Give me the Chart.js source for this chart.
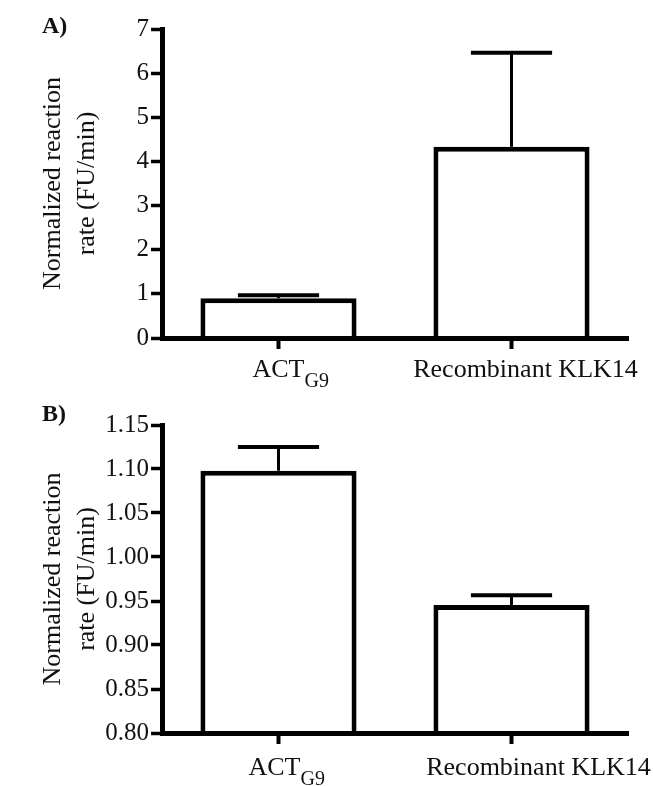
<!DOCTYPE html>
<html>
<head>
<meta charset="utf-8">
<script src="https://cdn.jsdelivr.net/npm/chart.js@4.4.1/dist/chart.umd.min.js"></script>
<style>
  body { margin: 0; background: #fff; }
  .panel { position: relative; width: 653px; height: 393px; }
  .tag { position: absolute; left: 42px; font: bold 24px/24px "Liberation Serif", serif; color: #111; }
</style>
</head>
<body>
<div class="panel">
  <canvas id="chartA" width="653" height="393"></canvas>
  <div class="tag" style="top:13px">A)</div>
</div>
<div class="panel">
  <canvas id="chartB" width="653" height="393"></canvas>
  <div class="tag" style="top:8px">B)</div>
</div>
<script>
// categories, with the subscript part of each label kept apart
const categories = ["ACT", "Recombinant KLK14"];
const subscripts = ["G9", ""];

// panel A
const rateA = [0.90, 4.33];
const errorA = [0.07, 2.13];
const ticksA = [0, 1, 2, 3, 4, 5, 6, 7];

// panel B
const rateB = [1.098, 0.9455];
const errorB = [0.027, 0.011];
const ticksB = [0.80, 0.85, 0.90, 0.95, 1.00, 1.05, 1.10, 1.15];

const yTitle = ["Normalized reaction", "rate (FU/min)"];
const serif = "Liberation Serif";

// draws mean + SD error bars on top of each bar
const errorBars = {
  id: "errorBars",
  afterDatasetsDraw(chart, args, opts) {
    const ctx = chart.ctx;
    const yScale = chart.scales.y;
    const values = chart.data.datasets[0].data;
    chart.getDatasetMeta(0).data.forEach((bar, i) => {
      const top = yScale.getPixelForValue(values[i] + opts.errors[i]);
      const half = bar.width * 0.26;
      ctx.save();
      ctx.strokeStyle = "#000";
      ctx.lineWidth = 3;
      ctx.beginPath();
      ctx.moveTo(bar.x, bar.y);
      ctx.lineTo(bar.x, top);
      ctx.stroke();
      ctx.lineWidth = 4;
      ctx.beginPath();
      ctx.moveTo(bar.x - half, top);
      ctx.lineTo(bar.x + half, top);
      ctx.stroke();
      ctx.restore();
    });
  }
};

// category labels with subscripts (canvas ticks can't do subscripts)
const subLabels = {
  id: "subLabels",
  afterDraw(chart, args, opts) {
    const ctx = chart.ctx;
    const xScale = chart.scales.x;
    ctx.save();
    ctx.fillStyle = "#111";
    ctx.textBaseline = "alphabetic";
    categories.forEach((label, i) => {
      const cx = xScale.getPixelForTick(i) + opts.shift[i];
      const base = xScale.top + opts.baseline;
      ctx.font = "26px '" + serif + "'";
      ctx.textAlign = "center";
      ctx.fillText(label, cx, base);
      if (subscripts[i]) {
        const w = ctx.measureText(label).width;
        ctx.font = "20px '" + serif + "'";
        ctx.textAlign = "left";
        ctx.fillText(subscripts[i], cx + w / 2, base + 10);
      }
    });
    ctx.restore();
  }
};

function makeChart(id, values, errors, ticks, decimals, topPad, xHeight, labelOpts) {
  return new Chart(document.getElementById(id), {
    type: "bar",
    data: {
      labels: categories,
      datasets: [{
        data: values,
        backgroundColor: "#fff",
        borderColor: "#000",
        borderWidth: 5,
        barPercentage: 0.67,
        categoryPercentage: 1
      }]
    },
    options: {
      responsive: false,
      animation: false,
      layout: { padding: { top: topPad, right: 25, left: 0, bottom: 0 } },
      scales: {
        x: {
          offset: true,
          afterFit: (s) => { s.height = xHeight; },
          border: { display: true, width: 5, color: "#000", z: 1 },
          grid: { offset: false, drawOnChartArea: false, drawTicks: true, tickLength: 11, tickWidth: 4, tickColor: "#000" },
          ticks: { display: false }
        },
        y: {
          min: ticks[0],
          max: ticks[ticks.length - 1],
          afterBuildTicks: (s) => { s.ticks = ticks.map((v) => ({ value: v })); },
          afterFit: (s) => { s.width = 162; },
          border: { display: true, width: 5, color: "#000", z: 1 },
          grid: { drawOnChartArea: false, drawTicks: true, tickLength: 11, tickWidth: 3.5, tickColor: "#000" },
          ticks: {
            color: "#111",
            padding: 2,
            font: { family: serif, size: 25 },
            callback: (v) => Number(v).toFixed(decimals)
          },
          title: {
            display: true,
            text: yTitle,
            color: "#111",
            font: { family: serif, size: 26, lineHeight: 1.3 },
            padding: { top: 36, bottom: 0 }
          }
        }
      },
      plugins: {
        legend: { display: false },
        tooltip: { enabled: false },
        errorBars: { errors: errors },
        subLabels: labelOpts
      }
    },
    plugins: [errorBars, subLabels]
  });
}

makeChart("chartA", rateA, errorA, ticksA, 0, 29, 55, { shift: [0, 14], baseline: 39 });
makeChart("chartB", rateB, errorB, ticksB, 2, 32, 53, { shift: [-4, 27], baseline: 42 });
</script>
</body>
</html>
